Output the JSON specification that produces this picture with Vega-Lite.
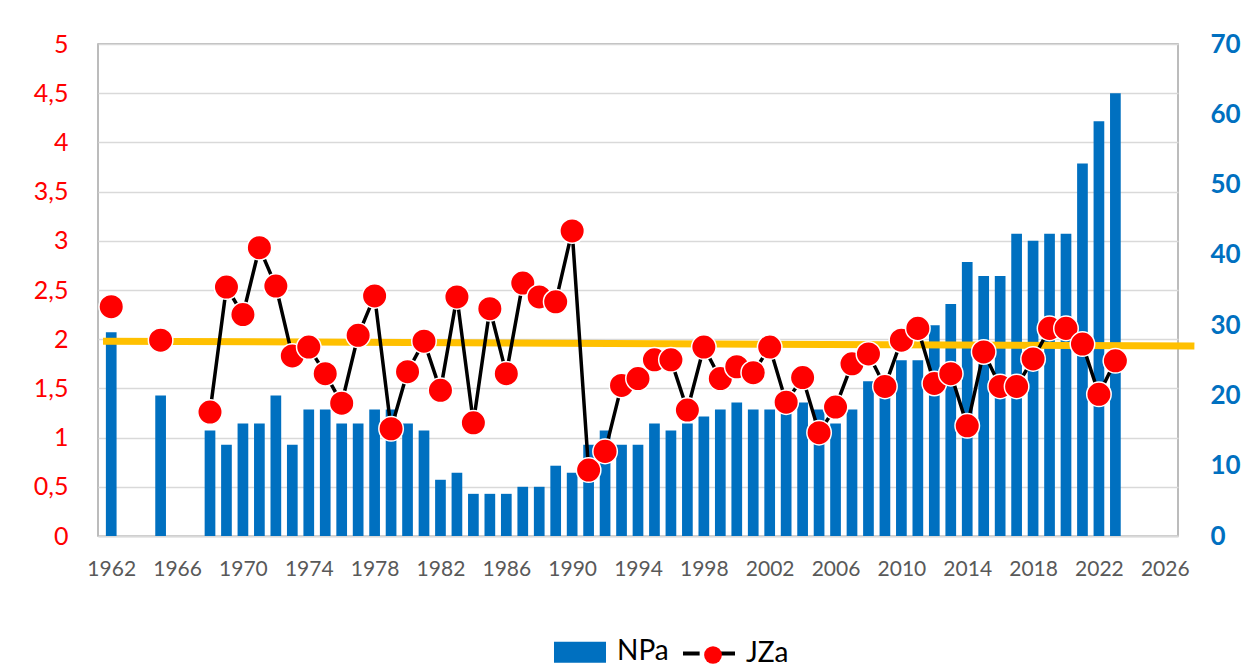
{
  "$schema": "https://vega.github.io/schema/vega-lite/v6.json",
  "width": 1080,
  "height": 492,
  "autosize": "none",
  "padding": {"left": 98, "top": 44, "right": 69, "bottom": 132},
  "background": "white",
  "config": {
    "view": {"stroke": "#A6A6A6", "strokeWidth": 1.5},
    "font": "Lato",
    "axis": {"ticks": false, "domain": false, "labelFont": "Lato", "title": null},
    "legend": {"labelFont": "Lato", "labelFontSize": 28, "labelColor": "#000000", "padding": 0}
  },
  "datasets": {
    "main": [
      {"year": 1962, "NPa": 29, "JZa": 2.33, "seg": "a"},
      {"year": 1965, "NPa": 20, "JZa": 1.99, "seg": "b"},
      {"year": 1968, "NPa": 15, "JZa": 1.26, "seg": "c"},
      {"year": 1969, "NPa": 13, "JZa": 2.53, "seg": "c"},
      {"year": 1970, "NPa": 16, "JZa": 2.25, "seg": "c"},
      {"year": 1971, "NPa": 16, "JZa": 2.93, "seg": "c"},
      {"year": 1972, "NPa": 20, "JZa": 2.54, "seg": "c"},
      {"year": 1973, "NPa": 13, "JZa": 1.83, "seg": "c"},
      {"year": 1974, "NPa": 18, "JZa": 1.92, "seg": "c"},
      {"year": 1975, "NPa": 18, "JZa": 1.65, "seg": "c"},
      {"year": 1976, "NPa": 16, "JZa": 1.35, "seg": "c"},
      {"year": 1977, "NPa": 16, "JZa": 2.04, "seg": "c"},
      {"year": 1978, "NPa": 18, "JZa": 2.44, "seg": "c"},
      {"year": 1979, "NPa": 18, "JZa": 1.09, "seg": "c"},
      {"year": 1980, "NPa": 16, "JZa": 1.67, "seg": "c"},
      {"year": 1981, "NPa": 15, "JZa": 1.98, "seg": "c"},
      {"year": 1982, "NPa": 8, "JZa": 1.48, "seg": "c"},
      {"year": 1983, "NPa": 9, "JZa": 2.43, "seg": "c"},
      {"year": 1984, "NPa": 6, "JZa": 1.15, "seg": "c"},
      {"year": 1985, "NPa": 6, "JZa": 2.31, "seg": "c"},
      {"year": 1986, "NPa": 6, "JZa": 1.65, "seg": "c"},
      {"year": 1987, "NPa": 7, "JZa": 2.57, "seg": "c"},
      {"year": 1988, "NPa": 7, "JZa": 2.43, "seg": "c"},
      {"year": 1989, "NPa": 10, "JZa": 2.38, "seg": "c"},
      {"year": 1990, "NPa": 9, "JZa": 3.10, "seg": "c"},
      {"year": 1991, "NPa": 13, "JZa": 0.67, "seg": "c"},
      {"year": 1992, "NPa": 15, "JZa": 0.86, "seg": "c"},
      {"year": 1993, "NPa": 13, "JZa": 1.53, "seg": "c"},
      {"year": 1994, "NPa": 13, "JZa": 1.60, "seg": "c"},
      {"year": 1995, "NPa": 16, "JZa": 1.79, "seg": "c"},
      {"year": 1996, "NPa": 15, "JZa": 1.79, "seg": "c"},
      {"year": 1997, "NPa": 16, "JZa": 1.28, "seg": "c"},
      {"year": 1998, "NPa": 17, "JZa": 1.92, "seg": "c"},
      {"year": 1999, "NPa": 18, "JZa": 1.60, "seg": "c"},
      {"year": 2000, "NPa": 19, "JZa": 1.72, "seg": "c"},
      {"year": 2001, "NPa": 18, "JZa": 1.66, "seg": "c"},
      {"year": 2002, "NPa": 18, "JZa": 1.92, "seg": "c"},
      {"year": 2003, "NPa": 18, "JZa": 1.36, "seg": "c"},
      {"year": 2004, "NPa": 19, "JZa": 1.61, "seg": "c"},
      {"year": 2005, "NPa": 18, "JZa": 1.05, "seg": "c"},
      {"year": 2006, "NPa": 16, "JZa": 1.31, "seg": "c"},
      {"year": 2007, "NPa": 18, "JZa": 1.75, "seg": "c"},
      {"year": 2008, "NPa": 22, "JZa": 1.85, "seg": "c"},
      {"year": 2009, "NPa": 22, "JZa": 1.52, "seg": "c"},
      {"year": 2010, "NPa": 25, "JZa": 1.99, "seg": "c"},
      {"year": 2011, "NPa": 25, "JZa": 2.11, "seg": "c"},
      {"year": 2012, "NPa": 30, "JZa": 1.55, "seg": "c"},
      {"year": 2013, "NPa": 33, "JZa": 1.65, "seg": "c"},
      {"year": 2014, "NPa": 39, "JZa": 1.12, "seg": "c"},
      {"year": 2015, "NPa": 37, "JZa": 1.87, "seg": "c"},
      {"year": 2016, "NPa": 37, "JZa": 1.52, "seg": "c"},
      {"year": 2017, "NPa": 43, "JZa": 1.52, "seg": "c"},
      {"year": 2018, "NPa": 42, "JZa": 1.80, "seg": "c"},
      {"year": 2019, "NPa": 43, "JZa": 2.11, "seg": "c"},
      {"year": 2020, "NPa": 43, "JZa": 2.11, "seg": "c"},
      {"year": 2021, "NPa": 53, "JZa": 1.95, "seg": "c"},
      {"year": 2022, "NPa": 59, "JZa": 1.44, "seg": "c"},
      {"year": 2023, "NPa": 63, "JZa": 1.78, "seg": "c"}
    ],
    "trend": [
      {"year": 1961.5, "JZa": 1.98},
      {"year": 2027.8, "JZa": 1.93}
    ],
    "legendA": [
      {"s": "NPa"},
      {"s": "JZa"}
    ],
    "legendB": [
      {"t": "JZa"}
    ]
  },
  "encoding": {
    "x": {
      "field": "year",
      "type": "quantitative",
      "scale": {"domain": [1961.5, 2026.5], "nice": false, "zero": false},
      "axis": {
        "values": [1962, 1966, 1970, 1974, 1978, 1982, 1986, 1990, 1994, 1998, 2002, 2006, 2010, 2014, 2018, 2022, 2026],
        "format": "d",
        "labelColor": "#595959",
        "labelFontSize": 21,
        "labelPadding": 22,
        "grid": false,
        "domain": true,
        "domainColor": "#D9D9D9",
        "domainWidth": 2,
        "labelFlush": false
      }
    }
  },
  "layer": [
    {
      "data": {"name": "main"},
      "mark": {"type": "bar", "size": 10.7, "color": "#0070C0"},
      "encoding": {
        "y": {
          "field": "NPa",
          "type": "quantitative",
          "scale": {"domain": [0, 70], "nice": false},
          "axis": {
            "orient": "right",
            "values": [0, 10, 20, 30, 40, 50, 60, 70],
            "labelColor": "#0070C0",
            "labelFontSize": 26,
            "labelFontWeight": "bold",
            "labelPadding": 32,
            "grid": false
          }
        }
      }
    },
    {
      "layer": [
        {
          "data": {"name": "trend"},
          "mark": {"type": "line", "color": "#FFC000", "strokeWidth": 7, "clip": false},
          "encoding": {
            "y": {"field": "JZa", "type": "quantitative"}
          }
        },
        {
          "data": {"name": "main"},
          "mark": {"type": "line", "color": "#000000", "strokeWidth": 3.5},
          "encoding": {
            "y": {"field": "JZa", "type": "quantitative"},
            "detail": {"field": "seg", "type": "nominal"}
          }
        },
        {
          "data": {"name": "main"},
          "mark": {"type": "point", "filled": true, "color": "#FF0000", "opacity": 1, "size": 600, "stroke": "#FFFFFF", "strokeWidth": 1.5},
          "encoding": {
            "y": {
              "field": "JZa",
              "type": "quantitative",
              "scale": {"domain": [0, 5], "nice": false},
              "axis": {
                "orient": "left",
                "values": [0, 0.5, 1, 1.5, 2, 2.5, 3, 3.5, 4, 4.5, 5],
                "labelExpr": "replace(format(datum.value, '.1~f'), '.', ',')",
                "labelColor": "#FF0000",
                "labelFontSize": 25,
                "labelPadding": 30,
                "grid": true,
                "gridColor": "#D9D9D9",
                "gridWidth": 1.5
              }
            }
          }
        }
      ]
    },
    {
      "data": {"name": "legendA"},
      "mark": {"type": "point", "filled": true, "opacity": 0},
      "encoding": {
        "fill": {
          "field": "s", "type": "nominal",
          "scale": {"domain": ["NPa", "JZa"], "range": ["#0070C0", "#FF0000"]},
          "legend": {"title": null, "orient": "none", "legendX": 459, "legendY": 585, "direction": "horizontal", "symbolSize": 1731, "symbolStrokeWidth": 4, "symbolOpacity": 1, "labelOffset": 14, "columnPadding": 5}
        },
        "stroke": {
          "field": "s", "type": "nominal",
          "scale": {"domain": ["NPa", "JZa"], "range": ["#0070C0", "#000000"]},
          "legend": {"title": null, "orient": "none", "legendX": 459, "legendY": 585, "direction": "horizontal", "symbolSize": 1731, "symbolStrokeWidth": 4, "symbolOpacity": 1, "labelOffset": 14, "columnPadding": 5}
        },
        "shape": {
          "field": "s", "type": "nominal",
          "scale": {"domain": ["NPa", "JZa"], "range": ["M-1.154,-0.409H1.154V0.409H-1.154Z", "M-1.25,0H-0.45M0.45,0H1.25"]},
          "legend": {"title": null, "orient": "none", "legendX": 459, "legendY": 585, "direction": "horizontal", "symbolSize": 1731, "symbolStrokeWidth": 4, "symbolOpacity": 1, "labelOffset": 14, "columnPadding": 5}
        }
      }
    },
    {
      "data": {"name": "legendB"},
      "mark": {"type": "point", "filled": true, "color": "#FF0000", "opacity": 0, "shape": "circle"},
      "encoding": {
        "size": {
          "field": "t", "type": "ordinal",
          "scale": {"domain": ["JZa"], "range": [314, 314]},
          "legend": {"title": null, "orient": "none", "legendX": 601, "legendY": 597, "symbolType": "circle", "symbolFillColor": "#FF0000", "symbolStrokeColor": "#FF0000", "symbolStrokeWidth": 0.5, "symbolOpacity": 1, "labelExpr": "''"}
        }
      }
    }
  ],
  "resolve": {"scale": {"y": "independent"}}
}
